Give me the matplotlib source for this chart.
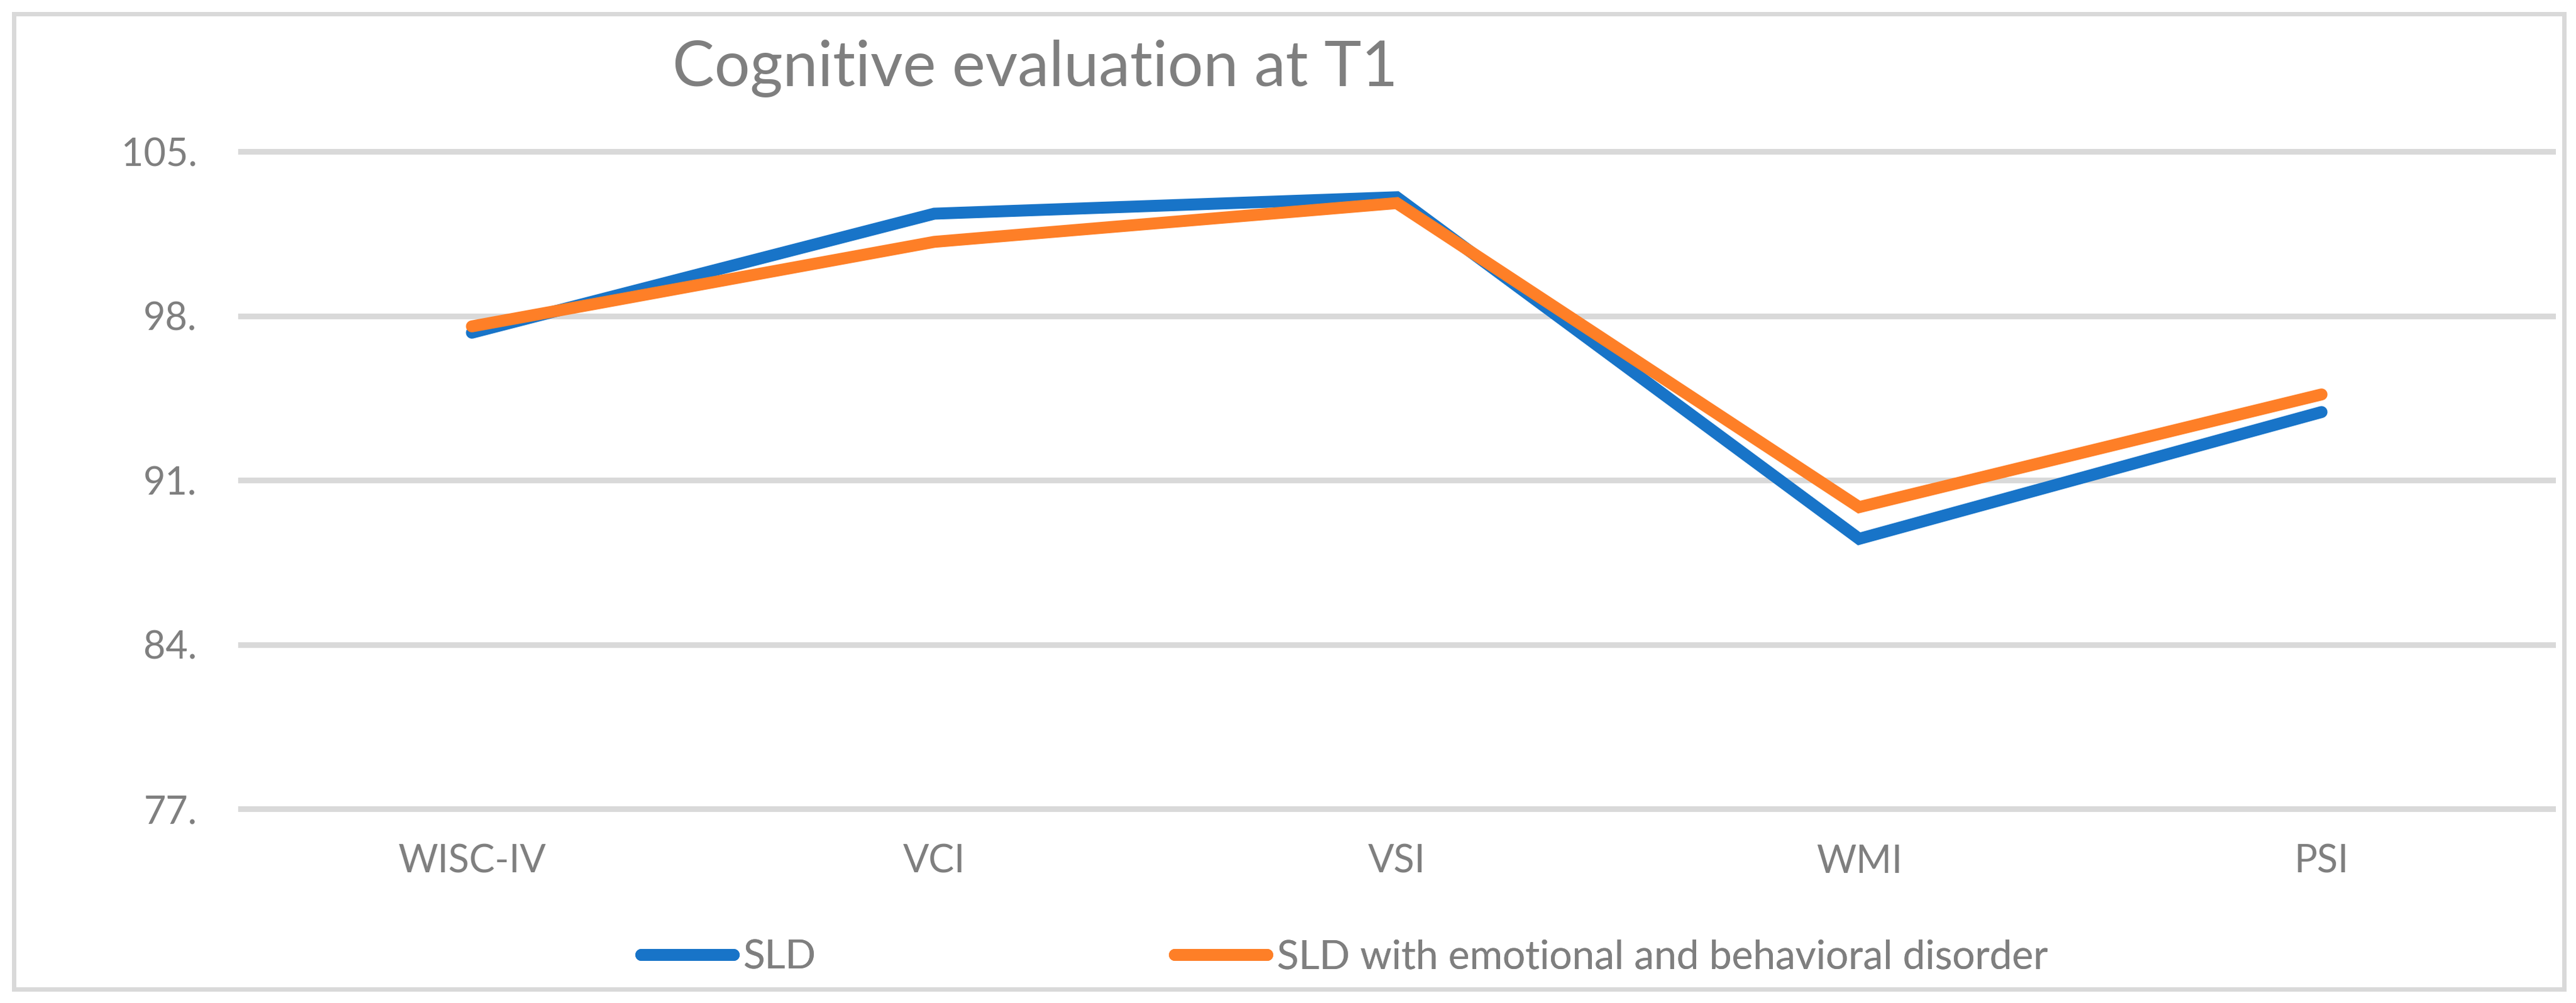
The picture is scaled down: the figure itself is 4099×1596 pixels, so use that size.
import matplotlib
matplotlib.use("Agg")
import matplotlib.pyplot as plt
from matplotlib.lines import Line2D
from matplotlib.patches import Rectangle

categories = ["WISC-IV", "VCI", "VSI", "WMI", "PSI"]
sld = [97.28, 102.35, 103.05, 88.5, 93.9]
sld_ebd = [97.55, 101.15, 102.8, 89.85, 94.65]
series_names = ["SLD", "SLD with emotional and behavioral disorder"]
y_ticks = [77, 84, 91, 98, 105]
title = "Cognitive evaluation at T1"

W, H = 4099, 1596
DPI = 100
plt.rcParams['font.family'] = ['Lato', 'DejaVu Sans']
GRAY = '#7f7f7f'
GRID = '#d9d9d9'
BLUE = '#1874c8'
ORANGE = '#fe7f27'

fig = plt.figure(figsize=(W / DPI, H / DPI), dpi=DPI)
fig.patch.set_facecolor('white')

left, right = 383 / W, 4062 / W
bottom, top = 1 - 1287 / H, 1 - 241 / H
ax = fig.add_axes([left, bottom, right - left, top - bottom])

x = list(range(len(categories)))
lw = 19 * 72 / DPI
ax.plot(x, sld, color=BLUE, lw=lw, solid_capstyle='round', solid_joinstyle='miter', zorder=3)
ax.plot(x, sld_ebd, color=ORANGE, lw=lw, solid_capstyle='round', solid_joinstyle='miter', zorder=4)

ax.set_xlim(-0.5, len(categories) - 0.5)
ax.set_ylim(y_ticks[0], y_ticks[-1])
ax.set_yticks(y_ticks)
ax.set_yticklabels([f"{v}." for v in y_ticks])
ax.set_xticks(x)
ax.set_xticklabels(categories)
ax.tick_params(axis='both', length=0, labelsize=44, labelcolor=GRAY)
ax.tick_params(axis='y', pad=50)
ax.tick_params(axis='x', pad=40)
for s in ax.spines.values():
    s.set_visible(False)
ax.grid(axis='y', color=GRID, lw=9 * 72 / DPI, zorder=0)
ax.grid(axis='x', visible=False)
for gl in ax.get_ygridlines():
    gl.set_clip_on(False)
ax.set_axisbelow(True)

fig.text(1647 / W, 1 - 137 / H, title, ha='center', va='baseline',
         fontsize=72, color=GRAY)

# legend entries
leg_y = 1 - 1523 / H
for name, col, x0 in [(series_names[0], BLUE, 1020), (series_names[1], ORANGE, 1869)]:
    h = Line2D([], [], color=col, lw=lw, solid_capstyle='round')
    lg = fig.legend([h], [name], loc='center left', bbox_to_anchor=(x0 / W, leg_y),
                    frameon=False, fontsize=46, labelcolor=GRAY, borderpad=0,
                    borderaxespad=0, handlelength=2.3, handletextpad=0.25)
    fig.add_artist(lg)

# outer frame
fig.add_artist(Rectangle((22 / W, 1 - 1574 / H), (4080 - 22) / W, (1574 - 22) / H,
                         transform=fig.transFigure, fill=False, edgecolor=GRID,
                         lw=7 * 72 / DPI))

fig.savefig("out.png", dpi=DPI, facecolor='white')
